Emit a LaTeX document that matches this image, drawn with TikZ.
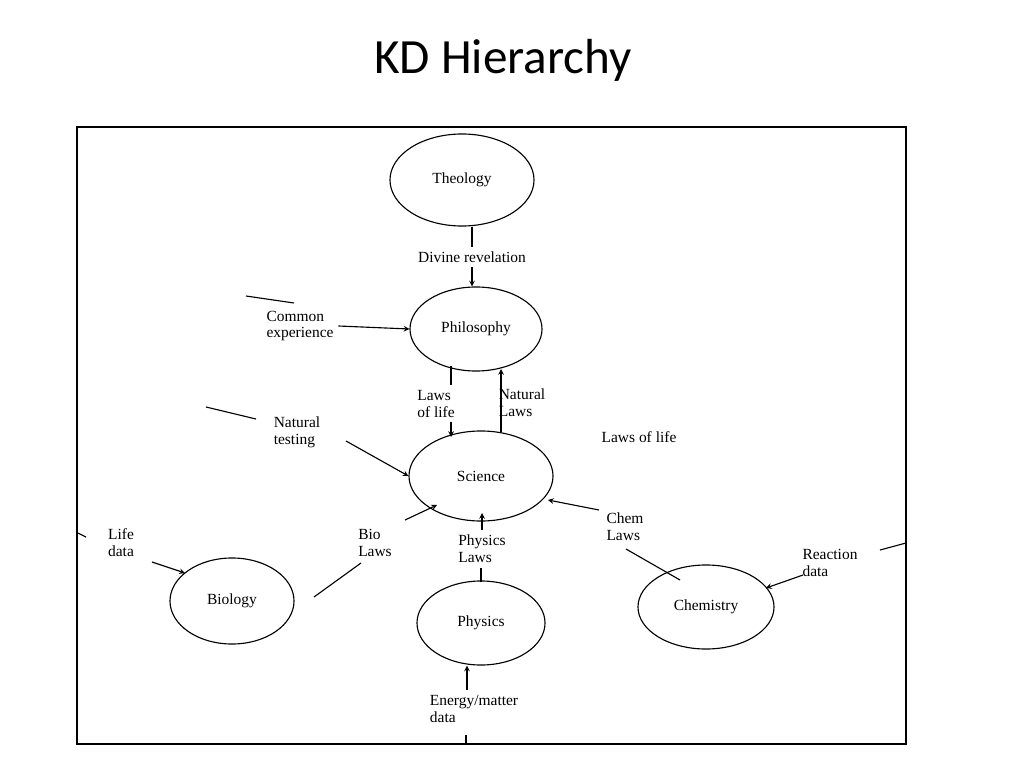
\documentclass[tikz,border=0pt]{standalone}
\usepackage{fontspec}
\setmainfont{Liberation Serif}
\newfontfamily\titlefont{Carlito}
\usetikzlibrary{shapes.geometric}

\begin{document}
\begin{tikzpicture}[x=0.025cm, y=-0.025cm, oval/.style={ellipse, draw, thick, inner sep=0pt, font=\fontsize{11}{12}\selectfont}, lbl/.style={font=\fontsize{11}{12}\selectfont, align=left}, arr/.style={->, >=stealth, thick}]
    \useasboundingbox (0,0) rectangle (1024,768);
    \node[font=\titlefont\fontsize{35}{40}\selectfont] (title) at (503,60) {KD Hierarchy};
    \draw[thick] (77,127) rectangle (906,744);

    \node[oval, minimum width=3.6cm, minimum height=2.3cm] (theo) at (462,180) {Theology};
    \node[oval, minimum width=3.3cm, minimum height=2.1cm] (phil) at (476,329) {Philosophy};
    \node[oval, minimum width=3.6cm, minimum height=2.25cm] (sci) at (481,476) {Science};
    \node[oval, minimum width=3.1cm, minimum height=2.15cm] (bio) at (232,601) {Biology};
    \node[oval, minimum width=3.2cm, minimum height=2.1cm] (phys) at (481,623) {Physics};
    \node[oval, minimum width=3.4cm, minimum height=2.1cm] (chem) at (706,607) {Chemistry};

    %Theology to philosophy
    \node[lbl] (divine) at (472,257) {Divine revelation};
    \draw[thick] (theo.south -| divine) -- (divine.north);
    \draw[arr] (divine.south) -- (phil.north -| divine);

    %Common experience
    \node[lbl] (common) at (300,326) {Common\\experience};
    \coordinate (c1) at (246,296); \coordinate (c2) at (294,303);
    \draw[thick] (c1) -- (c2);
    \draw[arr] (common.east) -- (phil.west);

    %Philosophy and science
    \node[lbl] (lawslife) at (436,404) {Laws\\of life};
    \node[lbl] (natlaws) at (522,403) {Natural\\Laws};
    \coordinate (p1) at (451,366); \coordinate (p2) at (451,385);
    \coordinate (p3) at (451,422); \coordinate (p4) at (451,437);
    \draw[thick] (p1) -- (p2);
    \draw[arr] (p3) -- (p4);
    \coordinate (n1) at (501,432); \coordinate (n2) at (501,369);
    \draw[arr] (n1) -- (n2);
    \node[lbl] (lawslife2) at (639,437) {Laws of life};

    %Natural testing
    \node[lbl] (testing) at (297,432) {Natural\\testing};
    \coordinate (t1) at (206,407); \coordinate (t2) at (256,419);
    \draw[thick] (t1) -- (t2);
    \coordinate (t3) at (346,441);
    \draw[arr] (t3) -- (sci.west);

    %Biology
    \node[lbl] (life) at (121,543) {Life\\data};
    \coordinate (l1) at (78,533); \coordinate (l2) at (86,537);
    \draw[thick] (l1) -- (l2);
    \coordinate (l3) at (152,562); \coordinate (l4) at (185,573);
    \draw[arr] (l3) -- (l4);
    \node[lbl] (biolaws) at (375,543) {Bio\\Laws};
    \coordinate (b0) at (314,597); \coordinate (b1) at (361,563);
    \draw[thick] (b0) -- (b1);
    \coordinate (b2) at (405,520); \coordinate (b3) at (437,505);
    \draw[arr] (b2) -- (b3);

    %Physics
    \node[lbl] (physlaws) at (482,549) {Physics\\Laws};
    \coordinate (f1) at (482,530); \coordinate (f2) at (482,513);
    \draw[arr] (f1) -- (f2);
    \coordinate (f3) at (481,568); \coordinate (f4) at (481,582);
    \draw[thick] (f3) -- (f4);
    \node[lbl] (energy) at (474,709) {Energy/matter\\data};
    \coordinate (e1) at (467,690); \coordinate (e2) at (466,735); \coordinate (e3) at (466,744);
    \draw[arr] (e1) -- (phys.south -| e1);
    \draw[thick] (e2) -- (e3);

    %Chemistry
    \node[lbl] (chemlaws) at (625,527) {Chem\\Laws};
    \coordinate (h1) at (599,510); \coordinate (h2) at (548,500);
    \draw[arr] (h1) -- (h2);
    \coordinate (h3) at (626,549); \coordinate (h4) at (680,580);
    \draw[thick] (h3) -- (h4);
    \node[lbl] (reaction) at (830,563) {Reaction\\data};
    \coordinate (r1) at (803,575); \coordinate (r2) at (766,588);
    \draw[arr] (r1) -- (r2);
    \coordinate (r3) at (880,550); \coordinate (r4) at (906,543);
    \draw[thick] (r3) -- (r4);
\end{tikzpicture}
\end{document}
